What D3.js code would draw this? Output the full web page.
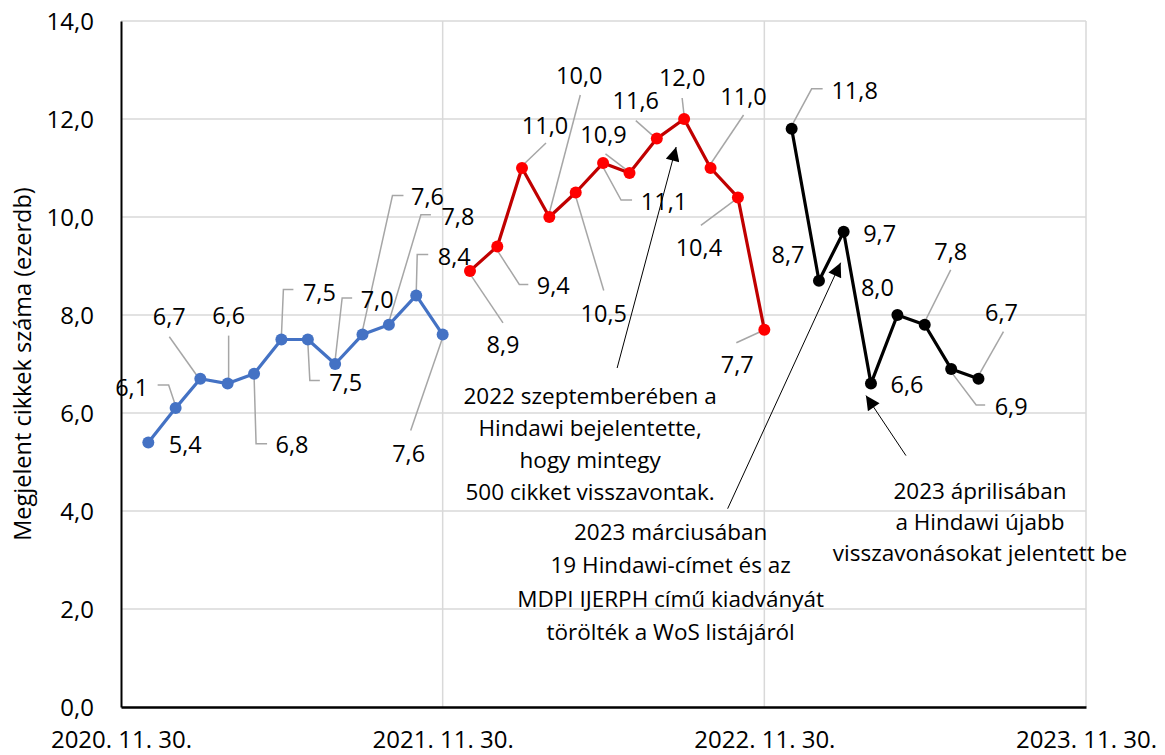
<!DOCTYPE html>
<html><head><meta charset="utf-8">
<script src="https://cdn.jsdelivr.net/npm/d3@7"></script>
<style>body{margin:0;background:#fff}svg{display:block}text{font-family:"Open Sans","Noto Sans",sans-serif;fill:#000}</style>
</head><body><svg id="c" width="1165" height="755"></svg>
<script>
// ---- data ----
const blueMonths = ["2020-12","2021-01","2021-02","2021-03","2021-04","2021-05","2021-06","2021-07","2021-08","2021-09","2021-10","2021-11"];
const blueValues = [5.4,6.1,6.7,6.6,6.8,7.5,7.5,7.0,7.6,7.8,8.4,7.6];
const redMonths = ["2021-12","2022-01","2022-02","2022-03","2022-04","2022-05","2022-06","2022-07","2022-08","2022-09","2022-10","2022-11"];
const redValues = [8.9,9.4,11.0,10.0,10.5,11.1,10.9,11.6,12.0,11.0,10.4,7.7];
const blackMonths = ["2022-12","2023-01","2023-02","2023-03","2023-04","2023-05","2023-06","2023-07"];
const blackValues = [11.8,8.7,9.7,6.6,8.0,7.8,6.9,6.7];
const xTickDates = ["2020-11-30","2021-11-30","2022-11-30","2023-11-30"];
const xTickLabels = ["2020. 11. 30.","2021. 11. 30.","2022. 11. 30.","2023. 11. 30."];
const yTicks = [0,2,4,6,8,10,12,14];
const yTitle = "Megjelent cikkek száma (ezerdb)";
const notes = [
  ["2022 szeptemberében a","Hindawi bejelentette,","hogy mintegy","500 cikket visszavontak."],
  ["2023 márciusában","19 Hindawi-címet és az","MDPI IJERPH című kiadványát","törölték a WoS listájáról"],
  ["2023 áprilisában","a Hindawi újabb","visszavonásokat jelentett be"]
];

// ---- layout (label offsets relative to their point) ----
const blueLab = [
  {t:[37,2]},
  {t:[-44,-20],l:[[-1,-5],[-7,-23],[-18,-23]]},
  {t:[-31,-62],l:[[-4,-4],[-31,-42]]},
  {t:[1,-68],l:[[1,-3],[1,-48]]},
  {t:[38,71],l:[[0,2],[2,70],[13,70]]},
  {t:[38,-47],l:[[0,-3],[2,-50],[12,-50]]},
  {t:[38,43],l:[[0,3],[2,41],[12,41]]},
  {t:[42,-64],l:[[0,-4],[7,-66],[17,-66]]},
  {t:[65,-138],l:[[0,-4],[30,-139],[41,-139]]},
  {t:[69,-108],l:[[0,-3],[32,-110],[42,-110]]},
  {t:[38,-39],l:[[0,-3],[1,-41],[12,-41]]},
  {t:[-34,119],l:[[0,3],[-32,96]]}
];
const redLab = [
  {t:[33,74],l:[[0,3],[33,52]]},
  {t:[56,39],l:[[0,4],[22,38],[31,38]]},
  {t:[23,-42],l:[[0,-2],[24,-25]]},
  {t:[30,-141],l:[[0,-4],[31,-122]]},
  {t:[28,121],l:[[0,4],[28,98]]},
  {t:[61,39],l:[[0,4],[18,37],[29,37]]},
  {t:[-26,-38],l:[[-3,-3],[-24,-19]]},
  {t:[-21,-38],l:[[-4,-3],[-21,-18]]},
  {t:[-2,-41],l:[[0,-3],[-2,-21]]},
  {t:[33,-71],l:[[0,-4],[33,-53]]},
  {t:[-39,50],l:[[-2,2],[-37,28]]},
  {t:[-27,35],l:[[-4,2],[-28,13]]}
];
const blackLab = [
  {t:[63,-38],l:[[0,-3],[20,-40],[31,-40]]},
  {t:[-31,-26]},
  {t:[36,2]},
  {t:[36,1]},
  {t:[-20,-27]},
  {t:[26,-73],l:[[0,-3],[26,-55]]},
  {t:[60,38],l:[[0,3],[25,36],[34,36]]},
  {t:[23,-66],l:[[0,-3],[25,-47]]}
];

const m={l:121,r:1086,t:21,b:707};
const parse=d3.timeParse("%Y-%m-%d");
const monthEnd=s=>d3.timeDay.offset(d3.timeMonth.offset(d3.timeParse("%Y-%m")(s),1),-1);
const x=d3.scaleTime().domain([parse(xTickDates[0]),parse(xTickDates[3])]).range([m.l,m.r]);
const y=d3.scaleLinear().domain([0,14]).range([m.b,m.t]);
const svg=d3.select("#c");
const fmt=v=>d3.format(".1f")(v).replace(".",",");

// gridlines
svg.append("g").selectAll("line").data(yTicks.filter(v=>v>0)).join("line")
  .attr("x1",m.l).attr("x2",m.r).attr("y1",d=>y(d)).attr("y2",d=>y(d))
  .attr("stroke","#d9d9d9").attr("stroke-width",1.5);
svg.append("g").selectAll("line").data(xTickDates.slice(1)).join("line")
  .attr("x1",d=>x(parse(d))).attr("x2",d=>x(parse(d))).attr("y1",m.t).attr("y2",m.b)
  .attr("stroke","#d9d9d9").attr("stroke-width",1.5);

// axes
const yAxis=svg.append("g").attr("transform",`translate(${m.l},0)`)
  .call(d3.axisLeft(y).tickValues(yTicks).tickFormat(fmt).tickSize(0).tickPadding(27));
yAxis.select(".domain").attr("stroke","#000").attr("stroke-width",2);
yAxis.selectAll("text").style("font-size","24px").attr("dy","0.35em");
const xAxis=svg.append("g").attr("transform",`translate(0,${m.b})`)
  .call(d3.axisBottom(x).tickValues(xTickDates.map(parse)).tickFormat((d,i)=>xTickLabels[i]).tickSize(0).tickPadding(34));
xAxis.select(".domain").attr("stroke","#000").attr("stroke-width",2.5);
xAxis.selectAll("text").style("font-size","24px").attr("dy","0.3em");

svg.append("text").attr("transform",`translate(23,${(m.t+m.b)/2}) rotate(-90)`)
  .attr("text-anchor","middle").attr("dy","0.35em").style("font-size","23.5px").text(yTitle);

function series(months,values,lineCol,dotCol,labs){
  const pts=months.map((mo,i)=>({x:x(monthEnd(mo)),y:y(values[i]),v:values[i],lab:labs[i]}));
  const g=svg.append("g");
  g.selectAll("path.ld").data(pts.filter(p=>p.lab.l)).join("path").attr("class","ld")
    .attr("d",p=>"M"+p.lab.l.map(q=>[p.x+q[0],p.y+q[1]].join(",")).join("L"))
    .attr("fill","none").attr("stroke","#a6a6a6").attr("stroke-width",1.5);
  g.append("path").datum(pts).attr("d",d3.line().x(p=>p.x).y(p=>p.y))
    .attr("fill","none").attr("stroke",lineCol).attr("stroke-width",3.2).attr("stroke-linejoin","round");
  g.selectAll("circle").data(pts).join("circle").attr("cx",p=>p.x).attr("cy",p=>p.y).attr("r",6).attr("fill",dotCol);
  g.selectAll("text").data(pts).join("text").attr("x",p=>p.x+p.lab.t[0]).attr("y",p=>p.y+p.lab.t[1])
    .attr("text-anchor","middle").attr("dy","0.35em").style("font-size","23.5px")
    .text(p=>fmt(p.v));
  return pts;
}
const bp=series(blueMonths,blueValues,"#4472c4","#4472c4",blueLab);
const rp=series(redMonths,redValues,"#c00000","#ff0000",redLab);
const kp=series(blackMonths,blackValues,"#000","#000",blackLab);

// annotations
svg.append("defs").append("marker").attr("id","ah").attr("viewBox","0 0 10 10").attr("refX",10).attr("refY",5)
  .attr("markerWidth",16).attr("markerHeight",14).attr("markerUnits","userSpaceOnUse").attr("orient","auto")
  .append("path").attr("d","M0,0L10,5L0,10z").attr("fill","#000");
const ann=[
  {p:rp[8],tail:[-67,249],tip:[-8,28],tx:[-94,277],lh:32,lines:notes[0]},
  {p:kp[2],tail:[-116,277],tip:[-3,31],tx:[-173,300],lh:33.5,lines:notes[1]},
  {p:kp[3],tail:[35,72],tip:[-5,12],tx:[109,108],lh:31,lines:notes[2]}
];
ann.forEach(a=>{
  svg.append("line").attr("x1",a.p.x+a.tail[0]).attr("y1",a.p.y+a.tail[1])
    .attr("x2",a.p.x+a.tip[0]).attr("y2",a.p.y+a.tip[1])
    .attr("stroke","#000").attr("stroke-width",1).attr("marker-end","url(#ah)");
  const t=svg.append("text").attr("text-anchor","middle").style("font-size","22.5px");
  a.lines.forEach((ln,i)=>t.append("tspan").attr("x",a.p.x+a.tx[0]).attr("y",a.p.y+a.tx[1]+i*a.lh).attr("dy","0.35em").text(ln));
});
</script></body></html>
